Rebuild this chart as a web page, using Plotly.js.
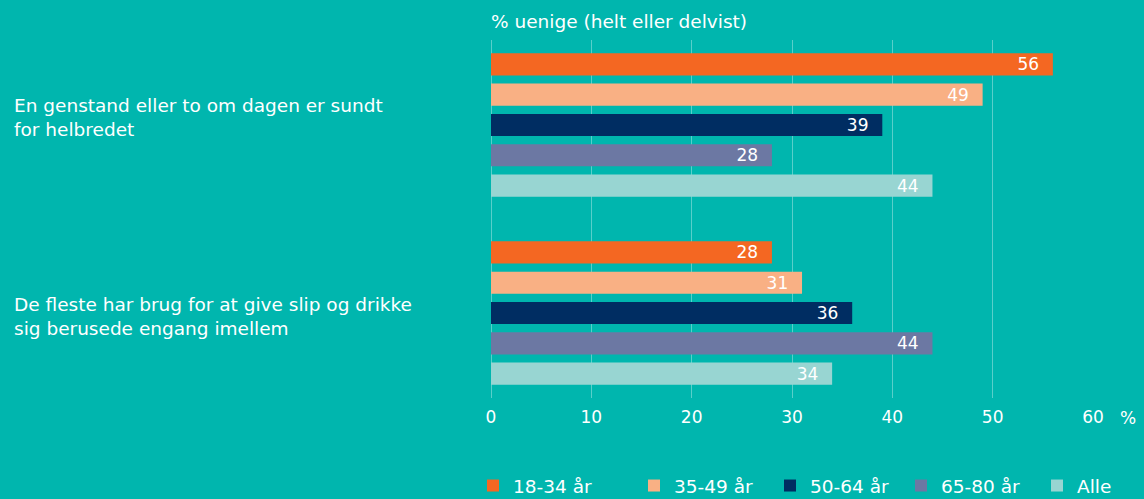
<!DOCTYPE html>
<html><head><meta charset="utf-8">
<script src="https://cdn.plot.ly/plotly-3.0.1.min.js"></script>
<style>html,body{margin:0;padding:0;background:#00B6AE;}#c{width:1144px;height:499px;}</style>
</head><body><div id="c"></div>
<script>
const categories = ["En genstand eller to om dagen er sundt<br>for helbredet", "De fleste har brug for at give slip og drikke<br>sig berusede engang imellem"];
const seriesNames = ["18-34 år", "35-49 år", "50-64 år", "65-80 år", "Alle"];
const v1834 = [56, 28];
const v3549 = [49, 31];
const v5064 = [39, 36];
const v6580 = [28, 44];
const vAlle = [44, 34];
const tickVals = [0, 10, 20, 30, 40, 50, 60];
const colors = ["#F46722", "#F9B084", "#002D62", "#6C78A3", "#98D5D2"];
const allValues = [v1834, v3549, v5064, v6580, vAlle];
const FONT = "DejaVu Sans, sans-serif";
const legendPx = [473, 634, 770, 901, 1037];
const PW = 602, L = 491;

const traces = allValues.map((vals, i) => ({
  type: "bar", orientation: "h", name: seriesNames[i],
  legend: i === 0 ? "legend" : "legend" + (i + 1),
  x: vals, y: [0, 1], marker: {color: colors[i]},
  text: vals.map(v => String(v) + "\u00a0\u00a0"), textposition: "inside", insidetextanchor: "end",
  textangle: 0, constraintext: "none",
  textfont: {color: "#ffffff", size: 17, family: FONT},
  hoverinfo: "skip"
}));

const annotations = categories.map((c, i) => ({
  text: c, xref: "paper", x: (12 - L) / PW, xanchor: "left", align: "left",
  yref: "y", y: i, yanchor: "middle", yshift: i === 0 ? 7 : -3, showarrow: false,
  font: {color: "#ffffff", size: 18.5, family: FONT}
}));
annotations.push({text: "% uenige (helt eller delvist)", xref: "paper", x: -0.004, xanchor: "left",
  yref: "paper", y: 1, yanchor: "bottom", yshift: 6, showarrow: false,
  font: {color: "#ffffff", size: 18.5, family: FONT}});
annotations.push({text: "%", xref: "paper", x: 1 + 35 / PW, xanchor: "center",
  yref: "paper", y: 0, yanchor: "middle", yshift: -20, showarrow: false,
  font: {color: "#ffffff", size: 17, family: FONT}});

const layout = {
  width: 1144, height: 499,
  paper_bgcolor: "#00B6AE", plot_bgcolor: "#00B6AE",
  margin: {l: L, r: 51, t: 40, b: 101, pad: 0, autoexpand: false},
  barmode: "group", bargap: 0.194, bargroupgap: 0.27,
  showlegend: true,
  xaxis: {range: [0, 60], tickvals: tickVals, ticktext: tickVals.map(String),
    showgrid: true, gridcolor: "rgba(255,255,255,0.35)", gridwidth: 1,
    zeroline: true, zerolinecolor: "rgba(255,255,255,0.35)", zerolinewidth: 1,
    showline: false, ticks: "outside", ticklen: 4, tickcolor: "rgba(0,0,0,0)",
    tickfont: {color: "#ffffff", size: 17, family: FONT}, fixedrange: true},
  yaxis: {type: "linear", range: [1.452, -0.452], showticklabels: false, showgrid: false,
    zeroline: false, showline: false, ticks: "", fixedrange: true},
  annotations: annotations
};
legendPx.forEach((px, i) => {
  layout[i === 0 ? "legend" : "legend" + (i + 1)] = {
    orientation: "h", x: (px - L) / PW, xanchor: "left", yref: "container", y: 13 / 499, yanchor: "middle",
    font: {color: "#ffffff", size: 18.5, family: FONT}, itemclick: false, bgcolor: "rgba(0,0,0,0)"
  };
});
Plotly.newPlot("c", traces, layout, {displayModeBar: false, staticPlot: true});
</script></body></html>
